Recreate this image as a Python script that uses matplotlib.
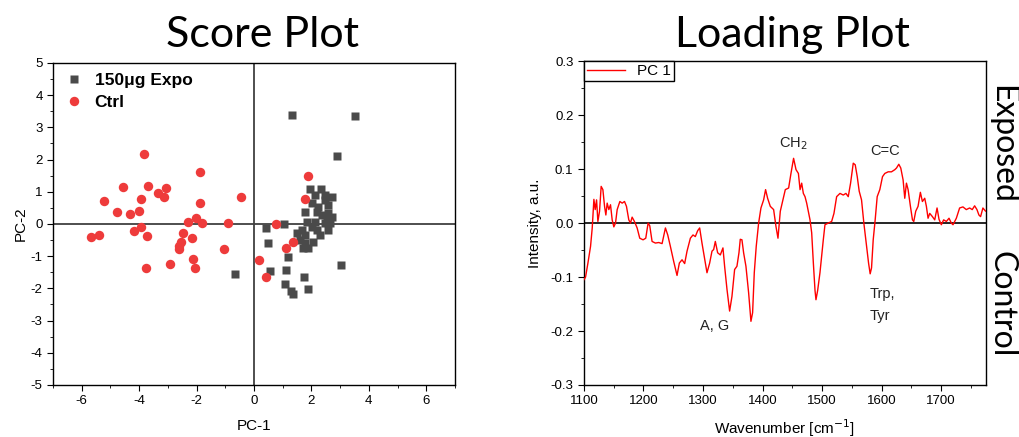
import numpy as np
import matplotlib.pyplot as plt
from matplotlib.ticker import MultipleLocator

plt.rcParams['font.family'] = ['Liberation Sans', 'DejaVu Sans']
plt.rcParams['axes.unicode_minus'] = False

# score plot data (PC-1, PC-2)
expo_pc1 = [1.31, 3.52, 2.90, -0.66, 0.41, 0.49, 1.03, 1.20, 0.55, 1.11, 1.08, 1.37, 1.29,
            1.74, 1.88, 3.03, 1.96, 2.33, 2.47, 2.71, 2.13, 2.03, 2.47, 2.24, 2.59, 1.78,
            2.18, 2.36, 2.53, 2.13, 1.84, 2.01, 2.47, 2.59, 1.66, 1.49, 1.78, 2.18, 2.30,
            2.07, 1.78, 1.60, 1.89, 1.72, 2.59, 2.71, 2.65]
expo_pc2 = [3.39, 3.35, 2.11, -1.55, -0.12, -0.60, 0.00, -1.04, -1.45, -1.43, -1.86, -2.16, -2.07,
            -1.64, -2.03, -1.28, 1.08, 1.08, 0.90, 0.83, 0.90, 0.64, 0.75, 0.54, 0.59, 0.38,
            0.38, 0.28, 0.23, 0.07, 0.07, -0.08, 0.02, -0.19, -0.19, -0.29, -0.34, -0.19, -0.34,
            -0.55, -0.60, -0.50, -0.76, -0.76, 0.33, 0.23, 0.02]
ctrl_pc1 = [-3.83, -1.87, -4.55, -3.70, -3.07, -3.33, -3.12, -0.44, -5.22, -3.95, -1.87, -4.77,
            -4.31, -4.00, -2.29, -2.03, -1.81, -0.92, -5.68, -5.39, -4.19, -3.95, -3.74, -2.46,
            -2.15, -2.55, -2.60, -2.62, -1.05, -2.11, -2.92, -3.77, -2.06, 0.77, 1.78, 1.35,
            1.13, 0.16, 0.43, 1.89]
ctrl_pc2 = [2.17, 1.62, 1.16, 1.19, 1.11, 0.97, 0.83, 0.83, 0.71, 0.79, 0.64, 0.36,
            0.31, 0.40, 0.07, 0.20, 0.04, 0.02, -0.39, -0.35, -0.21, -0.10, -0.36, -0.27,
            -0.44, -0.57, -0.68, -0.79, -0.77, -1.10, -1.24, -1.38, -1.36, 0.00, 0.77, -0.56,
            -0.76, -1.13, -1.64, 1.50]

# loading plot data
wavenumber = [1100, 1102.8, 1106.8, 1111.2, 1114, 1116.8, 1119, 1121.3, 1123.5, 1126.3, 1129,
              1131.9, 1134.7, 1136.9, 1139.1, 1141.9, 1144.7, 1147.5, 1150.3, 1153.1, 1155.9,
              1160.4, 1164.3, 1168.2, 1171.5, 1175.4, 1178.2, 1181, 1184.9, 1189.4, 1193.8,
              1199.4, 1203.9, 1207.8, 1210.6, 1214.5, 1220.1, 1225.7, 1231.3, 1236.9, 1240.8,
              1245.2, 1250.8, 1256.4, 1260.3, 1264.8, 1269.2, 1273.2, 1278.8, 1283.2, 1287.1,
              1291.1, 1294.4, 1298.3, 1302.2, 1306.7, 1311.2, 1315.1, 1317.9, 1320.7, 1324.6,
              1329.1, 1333.5, 1336.3, 1340.3, 1344.7, 1348.6, 1353.1, 1357, 1360.4, 1362.6,
              1365.4, 1368.2, 1372.1, 1376.6, 1380.5, 1383.3, 1386.1, 1389.4, 1393.4, 1397.3,
              1401.8, 1405.1, 1408.5, 1413, 1418.6, 1422.5, 1425.9, 1429.8, 1434.3, 1438.2,
              1443.8, 1447.7, 1452.1, 1456.2, 1460.2, 1463, 1465.7, 1468.5, 1471.3, 1474.1,
              1476.9, 1479.7, 1482.5, 1485.3, 1488.1, 1489.7, 1492.5, 1496.4, 1502, 1504.8,
              1510.4, 1516, 1519.9, 1524.4, 1530, 1535.5, 1540, 1543.9, 1547.8, 1552.3, 1555.6,
              1559, 1562.3, 1566.2, 1570.1, 1574.6, 1578, 1580.7, 1583, 1585.8, 1589.1, 1592.5,
              1596.9, 1601.4, 1605.3, 1610.9, 1616.5, 1622.1, 1624.9, 1628.8, 1632.1, 1636,
              1638.8, 1641.6, 1644.4, 1648.3, 1651.7, 1653.9, 1657.2, 1661.1, 1665, 1668.4,
              1672.3, 1675.1, 1677.9, 1680.7, 1685.2, 1689.1, 1693, 1696.3, 1700.2, 1704.1,
              1708.6, 1713.1, 1717, 1719.8, 1725.4, 1730.9, 1736.5, 1742.1, 1747.7, 1752.1,
              1756.1, 1760, 1763.3, 1766.1, 1770, 1774.5, 1777.8]
pc1 = [-0.105, -0.100, -0.074, -0.043, -0.009, 0.044, 0.025, 0.043, 0.003, 0.022, 0.068,
       0.062, 0.031, 0.015, 0.037, 0.025, 0.034, 0.006, -0.007, 0.000, 0.025,
       0.040, 0.037, 0.040, 0.031, 0.006, 0.000, 0.011, 0.003, -0.009, -0.028,
       -0.031, -0.028, 0.000, -0.005, -0.034, -0.037, -0.036, -0.038, -0.009, -0.022,
       -0.043, -0.071, -0.097, -0.074, -0.068, -0.075, -0.052, -0.028, -0.022, -0.025,
       -0.014, -0.009, -0.037, -0.062, -0.092, -0.074, -0.052, -0.049, -0.034, -0.055,
       -0.059, -0.046, -0.080, -0.123, -0.163, -0.136, -0.086, -0.080, -0.055, -0.030,
       -0.031, -0.055, -0.080, -0.129, -0.182, -0.166, -0.092, -0.043, 0.000, 0.028,
       0.043, 0.062, 0.046, 0.031, 0.025, -0.006, -0.028, 0.022, 0.043, 0.062,
       0.065, 0.092, 0.120, 0.099, 0.092, 0.062, 0.074, 0.055, 0.049, 0.037,
       0.022, 0.006, -0.018, -0.074, -0.125, -0.142, -0.125, -0.092, -0.031, -0.003,
       0.000, 0.003, 0.018, 0.049, 0.055, 0.052, 0.055, 0.049, 0.074, 0.111, 0.108,
       0.086, 0.059, 0.043, 0.000, -0.043, -0.074, -0.094, -0.083, -0.031, 0.006, 0.049,
       0.062, 0.086, 0.092, 0.095, 0.095, 0.099, 0.102, 0.109, 0.102, 0.080,
       0.046, 0.074, 0.062, 0.031, 0.006, 0.003, 0.022, 0.031, 0.057, 0.040,
       0.046, 0.031, 0.009, 0.018, 0.012, 0.006, 0.028, 0.007, -0.003, 0.006,
       0.003, 0.009, 0.000, -0.003, 0.009, 0.028, 0.030, 0.025, 0.028, 0.025,
       0.032, 0.025, 0.015, 0.012, 0.028, 0.022, 0.024]

fig = plt.figure(figsize=(10.19, 4.37), dpi=100)

# ---- score plot
ax1 = fig.add_axes([0.052, 0.119, 0.3945, 0.737])
ax1.axhline(0, color='#404040', lw=1.3, zorder=1)
ax1.axvline(0, color='#404040', lw=1.3, zorder=1)
ax1.plot(expo_pc1, expo_pc2, 's', color='#4a4a4a', ms=6.2, mec='none', label='150\u03bcg Expo', zorder=3)
ax1.plot(ctrl_pc1, ctrl_pc2, 'o', color='#ee3b3b', ms=6.8, mec='none', label='Ctrl', zorder=4)
ax1.set_xlim(-7, 7)
ax1.set_ylim(-5, 5)
ax1.xaxis.set_major_locator(MultipleLocator(2))
ax1.xaxis.set_minor_locator(MultipleLocator(1))
ax1.yaxis.set_major_locator(MultipleLocator(1))
ax1.yaxis.set_minor_locator(MultipleLocator(0.5))
ax1.set_xlabel('PC-1', fontsize=11, labelpad=8)
ax1.set_ylabel('PC-2', fontsize=11, labelpad=2)
ax1.legend(loc='upper left', frameon=False, prop={'weight': 'bold', 'size': 12.5},
           handletextpad=0.6, borderaxespad=0.2, handlelength=1.2, labelspacing=0.35)

# ---- loading plot
ax2 = fig.add_axes([0.573, 0.119, 0.3945, 0.741])
ax2.axhline(0, color='black', lw=1.2, zorder=1)
ax2.plot(wavenumber, pc1, color='red', lw=1.0, label='PC 1', zorder=3)
ax2.set_xlim(1100, 1775)
ax2.set_ylim(-0.3, 0.3)
ax2.xaxis.set_major_locator(MultipleLocator(100))
ax2.xaxis.set_minor_locator(MultipleLocator(50))
ax2.yaxis.set_major_locator(MultipleLocator(0.1))
ax2.yaxis.set_minor_locator(MultipleLocator(0.05))
ax2.set_xlabel('Wavenumber [cm$^{-1}$]', fontsize=11, labelpad=7)
ax2.set_ylabel('Intensity, a.u.', fontsize=11, labelpad=6)
leg = ax2.legend(loc='upper left', fancybox=False, framealpha=1, borderaxespad=0,
                 prop={'size': 11}, handlelength=2.5, borderpad=0.2)
leg.get_frame().set_edgecolor('black')
leg.get_frame().set_linewidth(1.0)

ax2.text(1451, 0.148, 'CH$_2$', fontsize=10.5, ha='center', va='center', color='#222222')
ax2.text(1605, 0.133, 'C=C', fontsize=10.5, ha='center', va='center', color='#222222')
ax2.text(1320, -0.19, 'A, G', fontsize=10.5, ha='center', va='center', color='#222222')
ax2.text(1580, -0.152, 'Trp,\nTyr', fontsize=10.5, ha='left', va='center', color='#222222',
         linespacing=1.7)

for ax in (ax1, ax2):
    ax.tick_params(which='both', direction='out', labelsize=9.5, top=False, right=False)
    ax.tick_params(which='major', length=4)
    ax.tick_params(which='minor', length=2.5)
    for s in ax.spines.values():
        s.set_linewidth(1.0)

ax2.yaxis.set_major_formatter(plt.FuncFormatter(lambda v, p: '%.1f' % v))

fig.text(0.258, 0.92, 'Score Plot', fontsize=31, family='Lato', ha='center', va='center')
fig.text(0.778, 0.92, 'Loading Plot', fontsize=31, family='Lato', ha='center', va='center')
fig.text(0.983, 0.67, 'Exposed', fontsize=23, family='Lato', rotation=-90, ha='center', va='center')
fig.text(0.983, 0.305, 'Control', fontsize=23, family='Lato', rotation=-90, ha='center', va='center')

fig.savefig('out.png', dpi=100)
